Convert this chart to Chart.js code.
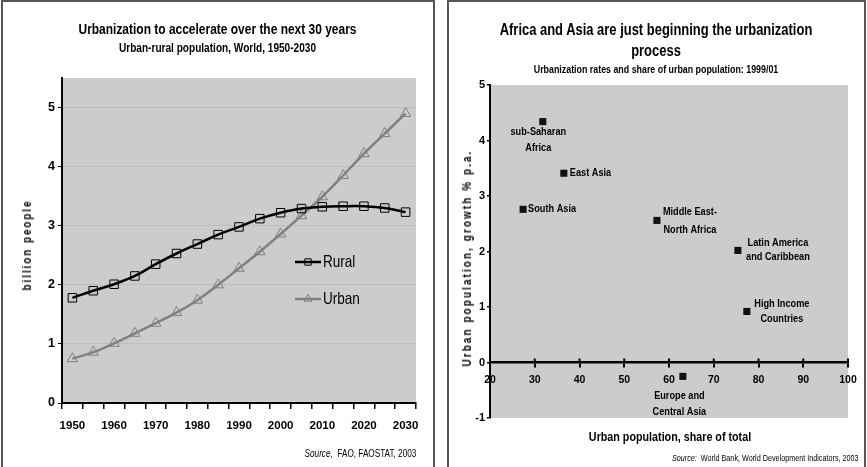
<!DOCTYPE html>
<html>
<head>
<meta charset="utf-8">
<script src="https://cdn.jsdelivr.net/npm/chart.js@4.4.0/dist/chart.umd.min.js"></script>
<style>
  html, body { margin: 0; padding: 0; background: #fff; }
  body { width: 867px; height: 467px; position: relative; overflow: hidden;
         font-family: "Liberation Sans", Arial, sans-serif; color: #000; }
  .panel { position: absolute; top: 0; height: 480px; border: 2px solid #555; box-sizing: border-box; }
  .txt { position: absolute; white-space: nowrap; }
  /* the original uses a narrow face; squeeze the regular one */
  .center { text-align: center; transform: scaleX(0.82); transform-origin: 50% 50%; }
  .right { transform: scaleX(0.82); transform-origin: 100% 50%; }
  .rot { transform: translate(-50%, -50%) rotate(-90deg) scaleX(0.82); font-weight: bold; }
  canvas { position: absolute; top: 0; }
</style>
</head>
<body>
<div class="panel" style="left:1px; width:434px;"></div>
<div class="panel" style="left:447px; width:419px;"></div>

<canvas id="popChart" width="440" height="467" style="left:0"></canvas>
<canvas id="urbChart" width="427" height="467" style="left:440px"></canvas>

<div class="txt center" style="left:2px; width:431px; top:20px; font-size:14.6px; line-height:18px; font-weight:bold;">Urbanization to accelerate over the next 30 years</div>
<div class="txt center" style="left:2px; width:431px; top:40px; font-size:12.3px; line-height:16px; font-weight:bold;">Urban-rural population, World, 1950-2030</div>
<div class="txt rot" style="left:27px; top:245px; font-size:12px; letter-spacing:2.4px;">billion people</div>
<div class="txt right" style="right:451px; top:448px; font-size:10px; line-height:12px;"><i>Source,</i>&nbsp; FAO, FAOSTAT, 2003</div>

<div class="txt center" style="left:448px; width:416px; top:19px; font-size:15.8px; line-height:21px; font-weight:bold;">Africa and Asia are just beginning the urbanization<br>process</div>
<div class="txt center" style="left:448px; width:416px; top:63px; font-size:10.8px; line-height:12px; font-weight:bold;">Urbanization rates and share of urban population: 1999/01</div>
<div class="txt rot" style="left:467px; top:258px; font-size:12px; letter-spacing:2.6px;">Urban population, growth % p.a.</div>
<div class="txt center" style="left:570px; width:200px; top:429px; font-size:13.1px; line-height:16px; font-weight:bold;">Urban population, share of total</div>
<div class="txt right" style="right:8px; top:452px; font-size:8.8px; line-height:12px;"><i>Source:</i>&nbsp; World Bank, World Development Indicators, 2003</div>

<script>
// left chart: world urban / rural population, billions
var years = ['1950','1955','1960','1965','1970','1975','1980','1985','1990',
             '1995','2000','2005','2010','2015','2020','2025','2030'];
var rural = [1.78, 1.90, 2.01, 2.15, 2.35, 2.53, 2.69, 2.85, 2.98,
             3.12, 3.22, 3.29, 3.32, 3.33, 3.33, 3.30, 3.23];
var urban = [0.75, 0.86, 1.01, 1.18, 1.35, 1.53, 1.74, 2.00, 2.28,
             2.56, 2.86, 3.17, 3.49, 3.85, 4.22, 4.56, 4.90];

// right chart: urban share (%) vs urban growth (% p.a.)
var regions = [['sub-Saharan', 'Africa'], ['East Asia'], ['South Asia'],
               ['Middle East-', 'North Africa'], ['Latin America', 'and Caribbean'],
               ['High Income', 'Countries'], ['Europe and', 'Central Asia']];
var urbanShare  = [31.8, 36.5, 27.4, 57.3, 75.4, 77.4, 63.1];
var urbanGrowth = [4.34, 3.41, 2.76, 2.56, 2.02, 0.92, -0.25];

// where each region's label sits relative to its point (px)
var labelPlace = [
  { dx: -4.5, dys: [10, 26], align: 'center' },
  { dx: 6, dys: [0], align: 'left' },
  { dx: 5, dys: [0], align: 'left' },
  { dx: 33, dys: [-9, 9], align: 'center' },
  { dx: 40, dys: [-7, 7], align: 'center' },
  { dx: 35, dys: [-8, 7], align: 'center' },
  { dx: -3.5, dys: [20, 36], align: 'center' }
];

var FONT = '"Liberation Sans", Arial, sans-serif';
var SQUEEZE = 0.82;
Chart.defaults.font.family = FONT;
Chart.defaults.color = '#000';

// condensed text on the canvas
function narrowText(ctx, text, x, y) {
  ctx.save();
  ctx.translate(x, y);
  ctx.scale(SQUEEZE, 1);
  ctx.fillText(text, 0, 0);
  ctx.restore();
}

const plotBg = {
  id: 'plotBg',
  beforeDraw(chart) {
    const a = chart.chartArea, ctx = chart.ctx;
    ctx.save();
    ctx.fillStyle = '#cccccc';
    ctx.fillRect(a.left, a.top, a.width, a.height);
    ctx.restore();
  }
};

// legend drawn inside the plot, line + marker like the original
const innerLegend = {
  id: 'innerLegend',
  afterDatasetsDraw(chart) {
    const ctx = chart.ctx;
    const rows = [262, 299];
    chart.data.datasets.forEach((ds, i) => {
      const y = rows[i];
      ctx.save();
      ctx.strokeStyle = ds.borderColor;
      ctx.lineWidth = ds.borderWidth;
      ctx.beginPath();
      ctx.moveTo(295, y);
      ctx.lineTo(321, y);
      ctx.stroke();
      ctx.lineWidth = 1;
      ctx.fillStyle = 'rgba(0,0,0,0)';
      Chart.helpers.drawPoint(ctx, { pointStyle: ds.pointStyle, radius: 4.5, borderWidth: 1 }, 308, y);
      ctx.fillStyle = '#000';
      ctx.font = '16.5px ' + FONT;
      ctx.textBaseline = 'middle';
      ctx.textAlign = 'left';
      narrowText(ctx, ds.label, 323, y);
      ctx.restore();
    });
  }
};

const popChart = new Chart(document.getElementById('popChart'), {
  type: 'line',
  data: {
    labels: years,
    datasets: [
      {
        label: 'Rural',
        data: rural,
        borderColor: '#000',
        borderWidth: 2.5,
        tension: 0.4,
        pointStyle: 'rect',
        pointRadius: 6,
        pointBorderWidth: 1,
        pointBorderColor: '#000',
        pointBackgroundColor: 'rgba(0,0,0,0)'
      },
      {
        label: 'Urban',
        data: urban,
        borderColor: '#808080',
        borderWidth: 2.5,
        tension: 0.4,
        pointStyle: 'triangle',
        pointRadius: 6,
        pointBorderWidth: 1,
        pointBorderColor: '#808080',
        pointBackgroundColor: 'rgba(0,0,0,0)'
      }
    ]
  },
  options: {
    responsive: false,
    animation: false,
    layout: { padding: { left: 22, top: 78, right: 24, bottom: 34 } },
    plugins: { legend: { display: false }, tooltip: { enabled: false } },
    scales: {
      x: {
        offset: true,
        afterFit: (s) => { s.height = 30; },
        border: { color: '#000', width: 2 },
        grid: { offset: true, drawOnChartArea: false, color: '#000', lineWidth: 1.5, tickLength: 6 },
        ticks: {
          autoSkip: false, maxRotation: 0, padding: 10,
          font: { size: 11.5, weight: 'bold' },
          callback: function (v, i) { return Number(years[i]) % 10 === 0 ? years[i] : ''; }
        }
      },
      y: {
        min: 0, max: 5.5,
        afterFit: (s) => { s.width = 40; },
        afterBuildTicks: (s) => { s.ticks = s.ticks.filter(t => Number.isInteger(t.value)); },
        border: { color: '#000', width: 2 },
        grid: { color: '#bdbdbd', tickColor: '#000', tickLength: 4, lineWidth: 1 },
        ticks: { stepSize: 1, padding: 3, font: { size: 12.5, weight: 'bold' } }
      }
    }
  },
  plugins: [plotBg, innerLegend]
});

const regionLabels = {
  id: 'regionLabels',
  afterDatasetsDraw(chart) {
    const ctx = chart.ctx;
    const pts = chart.getDatasetMeta(0).data;
    ctx.save();
    ctx.fillStyle = '#000';
    ctx.font = 'bold 11.2px ' + FONT;
    ctx.textBaseline = 'middle';
    pts.forEach((p, i) => {
      const place = labelPlace[i];
      ctx.textAlign = place.align;
      regions[i].forEach((line, j) => {
        narrowText(ctx, line, p.x + place.dx, p.y + place.dys[j]);
      });
    });
    ctx.restore();
  }
};

// the x axis ticks cross the axis line
const crossTicks = {
  id: 'crossTicks',
  afterDraw(chart) {
    const xs = chart.scales.x, ys = chart.scales.y, ctx = chart.ctx;
    const y0 = ys.getPixelForValue(0);
    ctx.save();
    ctx.strokeStyle = '#000';
    ctx.lineWidth = 2;
    xs.ticks.forEach(t => {
      const px = xs.getPixelForValue(t.value);
      ctx.beginPath();
      ctx.moveTo(px, y0 - 4);
      ctx.lineTo(px, y0);
      ctx.stroke();
    });
    ctx.restore();
  }
};

const urbChart = new Chart(document.getElementById('urbChart'), {
  type: 'scatter',
  data: {
    datasets: [{
      label: 'Regions',
      data: urbanShare.map((x, i) => ({ x: x, y: urbanGrowth[i] })),
      pointStyle: 'rect',
      pointRadius: 5,
      pointBorderWidth: 0,
      pointBackgroundColor: '#111',
      pointBorderColor: '#111'
    }]
  },
  options: {
    responsive: false,
    animation: false,
    layout: { padding: { left: 20, top: 85, right: 19, bottom: 49 } },
    plugins: { legend: { display: false }, tooltip: { enabled: false } },
    scales: {
      x: {
        type: 'linear',
        min: 20, max: 100,
        position: { y: 0 },
        afterFit: (s) => { s.height = 0; },
        border: { color: '#000', width: 2.5 },
        grid: { drawOnChartArea: false, color: '#000', lineWidth: 2, tickLength: 4 },
        ticks: { stepSize: 10, padding: 7, maxRotation: 0, font: { size: 10.5, weight: 'bold' } }
      },
      y: {
        min: -1, max: 5,
        afterFit: (s) => { s.width = 30; },
        border: { color: '#000', width: 2 },
        grid: { drawOnChartArea: false, color: '#000', tickLength: 3, lineWidth: 1.5 },
        ticks: { stepSize: 1, padding: 2, font: { size: 11, weight: 'bold' } }
      }
    }
  },
  plugins: [plotBg, regionLabels, crossTicks]
});
</script>
</body>
</html>
